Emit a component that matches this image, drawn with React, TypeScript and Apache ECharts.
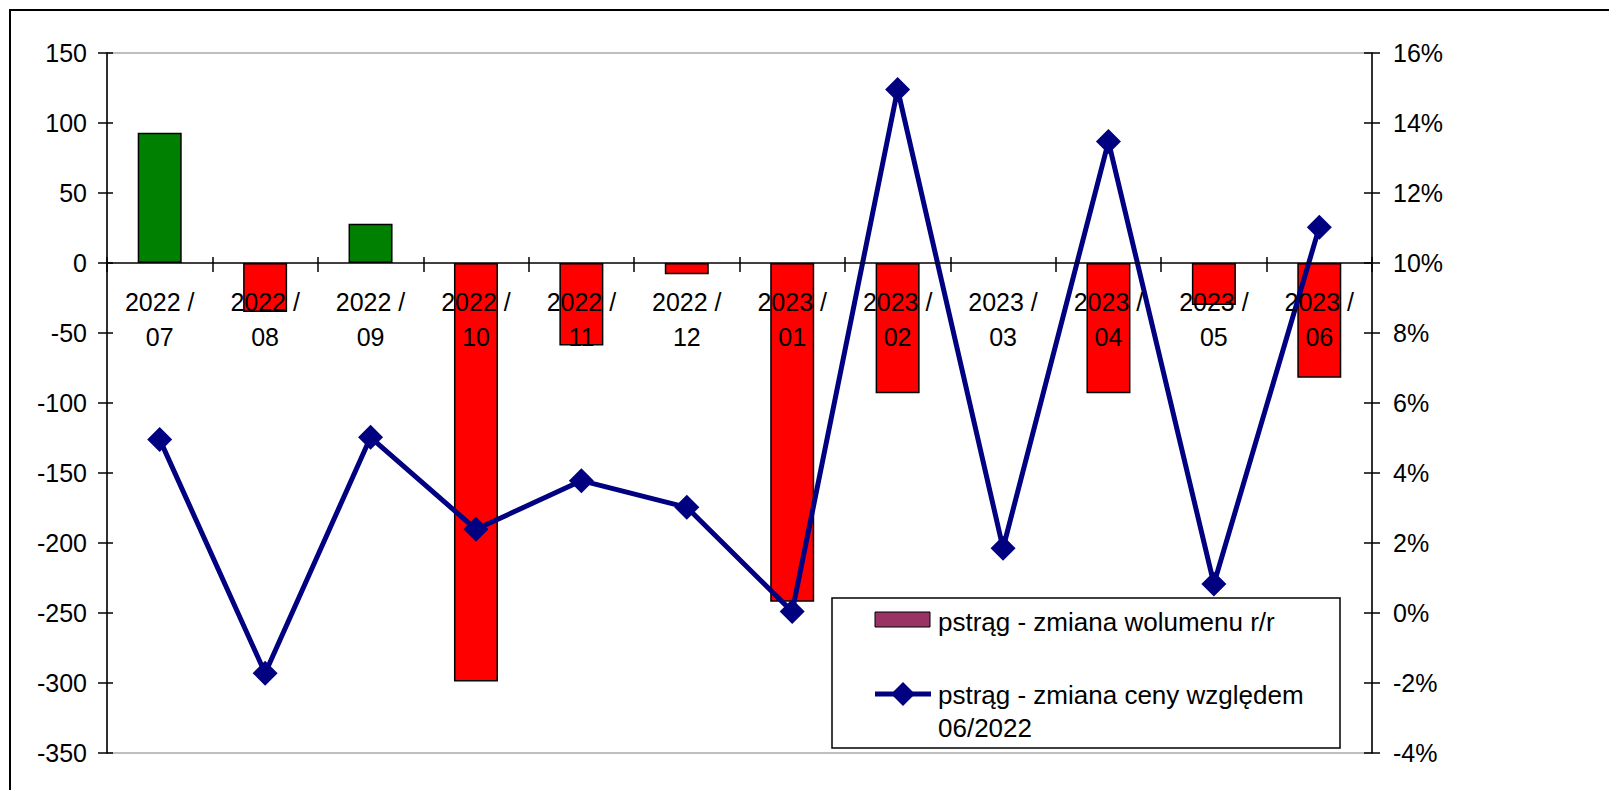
import React, { useEffect, useRef } from "react";
import * as echarts from "echarts";

const categories = [
  "2022 /\n07", "2022 /\n08", "2022 /\n09", "2022 /\n10", "2022 /\n11", "2022 /\n12",
  "2023 /\n01", "2023 /\n02", "2023 /\n03", "2023 /\n04", "2023 /\n05", "2023 /\n06",
];
const volumeChange = [93, -35, 28, -299, -59, -8, -242, -93, 0, -93, -30, -82];
const priceChange = [4.96, -1.72, 5.02, 2.39, 3.78, 3.02, 0.04, 14.96, 1.85, 13.47, 0.83, 11.02];
const leftTicks = { min: -350, max: 150, interval: 50 };
const rightTicks = { min: -4, max: 16, interval: 2 };
const seriesNames = ["pstrąg - zmiana wolumenu r/r", "pstrąg - zmiana ceny względem 06/2022"];

const FONT = "'Liberation Sans', Arial, sans-serif";
const NAVY = "#000080";
const GREEN = "#008000";
const RED = "#FF0000";
const PURPLE = "#993366";

const GRID = { left: 107, right: 237, top: 53, bottom: 37 };
const PLOT_H = 790 - GRID.top - GRID.bottom;

export default function App() {
  const ref = useRef<HTMLDivElement>(null);
  useEffect(() => {
    if (!ref.current) return;
    const chart = echarts.init(ref.current, null, { renderer: "svg" });
    const labelStyle = { color: "#000", fontSize: 25, fontFamily: FONT };
    // distance from grid bottom to the zero line of the left axis
    const zeroOffset = -PLOT_H * (0 - leftTicks.min) / (leftTicks.max - leftTicks.min);
    const option: any = {
      animation: false,
      backgroundColor: "#fff",
      textStyle: { fontFamily: FONT },
      grid: {
        ...GRID,
        show: true, borderColor: "#808080", borderWidth: 1,
        containLabel: false, outerBoundsMode: "none",
      },
      xAxis: [
        {
          type: "category", data: categories, position: "bottom", z: 5,
          axisLine: { onZero: true, onZeroAxisIndex: 0, lineStyle: { color: "#000", width: 1.5 } },
          axisTick: { show: true, length: 9, interval: 0, lineStyle: { color: "#000", width: 1.5 } },
          axisLabel: { show: false },
          splitLine: { show: false },
        },
        {
          type: "category", data: categories, position: "bottom", z: 6,
          offset: zeroOffset,
          axisLine: { show: false, onZero: false },
          axisTick: { show: true, inside: true, length: 6, interval: 0, lineStyle: { color: "#000", width: 1.5 } },
          axisLabel: { ...labelStyle, interval: 0, margin: 21, lineHeight: 35 },
          splitLine: { show: false },
        },
      ],
      yAxis: [
        {
          type: "value", position: "left", ...leftTicks, z: 5,
          axisLine: { show: true, onZero: false, lineStyle: { color: "#000", width: 1.5 } },
          axisTick: { show: true, length: 9, lineStyle: { color: "#000", width: 1.5 } },
          axisLabel: { ...labelStyle, margin: 20 },
          splitLine: { show: false },
        },
        {
          type: "value", position: "right", ...rightTicks, z: 5,
          axisLine: { show: true, onZero: false, lineStyle: { color: "#000", width: 1.5 } },
          axisTick: { show: true, length: 8, lineStyle: { color: "#000", width: 1.5 } },
          axisLabel: { ...labelStyle, margin: 21, formatter: "{value}%" },
          splitLine: { show: false },
        },
        {
          type: "value", position: "left", ...leftTicks, z: 5,
          axisLine: { show: false, onZero: false },
          axisTick: { show: true, inside: true, length: 6, lineStyle: { color: "#000", width: 1.5 } },
          axisLabel: { show: false },
          splitLine: { show: false },
        },
        {
          type: "value", position: "right", ...rightTicks, z: 5,
          axisLine: { show: false, onZero: false },
          axisTick: { show: true, inside: true, length: 8, lineStyle: { color: "#000", width: 1.5 } },
          axisLabel: { show: false },
          splitLine: { show: false },
        },
      ],
      series: [
        {
          name: seriesNames[0],
          type: "bar",
          xAxisIndex: 0,
          yAxisIndex: 0,
          barWidth: 44,
          z: 2,
          itemStyle: { color: PURPLE, borderColor: "#000", borderWidth: 1.5 },
          data: volumeChange.map((v) => ({
            value: v,
            itemStyle: {
              color: v >= 0 ? GREEN : RED,
              borderWidth: v === 0 ? 0 : 1.5,
            },
          })),
        },
        {
          name: seriesNames[1],
          type: "line",
          xAxisIndex: 0,
          yAxisIndex: 1,
          z: 3,
          symbol: "diamond",
          symbolSize: 25,
          showAllSymbol: true,
          lineStyle: { color: NAVY, width: 5 },
          itemStyle: { color: NAVY },
          data: priceChange,
        },
      ],
      graphic: [
        {
          type: "rect", z: -1, silent: true,
          shape: { x: 10, y: 10, width: 1800, height: 1000 },
          style: { fill: "none", stroke: "#000", lineWidth: 2 },
        },
        {
          type: "group", z: 100,
          children: [
            {
              type: "rect",
              shape: { x: 832, y: 598, width: 508, height: 150 },
              style: { fill: "#fff", stroke: "#000", lineWidth: 1.5 },
            },
            {
              type: "rect",
              shape: { x: 875, y: 612, width: 55, height: 15 },
              style: { fill: PURPLE, stroke: "#000", lineWidth: 1 },
            },
            {
              type: "text", x: 938, y: 622,
              style: { text: seriesNames[0], fill: "#000", font: `26px ${FONT}`, verticalAlign: "middle", align: "left" },
            },
            {
              type: "line",
              shape: { x1: 875, y1: 694, x2: 931, y2: 694 },
              style: { stroke: NAVY, lineWidth: 5 },
            },
            {
              type: "polygon",
              shape: { points: [[903, 682], [915, 694], [903, 706], [891, 694]] },
              style: { fill: NAVY },
            },
            {
              type: "text", x: 938, y: 678,
              style: {
                text: "pstrąg - zmiana ceny względem\n06/2022",
                fill: "#000", font: `26px ${FONT}`, lineHeight: 33, verticalAlign: "top", align: "left",
              },
            },
          ],
        },
      ],
    };
    chart.setOption(option);
    return () => chart.dispose();
  }, []);
  return (
    <div
      ref={ref}
      style={{ position: "absolute", left: 0, top: 0, width: 1609, height: 790, background: "#fff" }}
    />
  );
}
